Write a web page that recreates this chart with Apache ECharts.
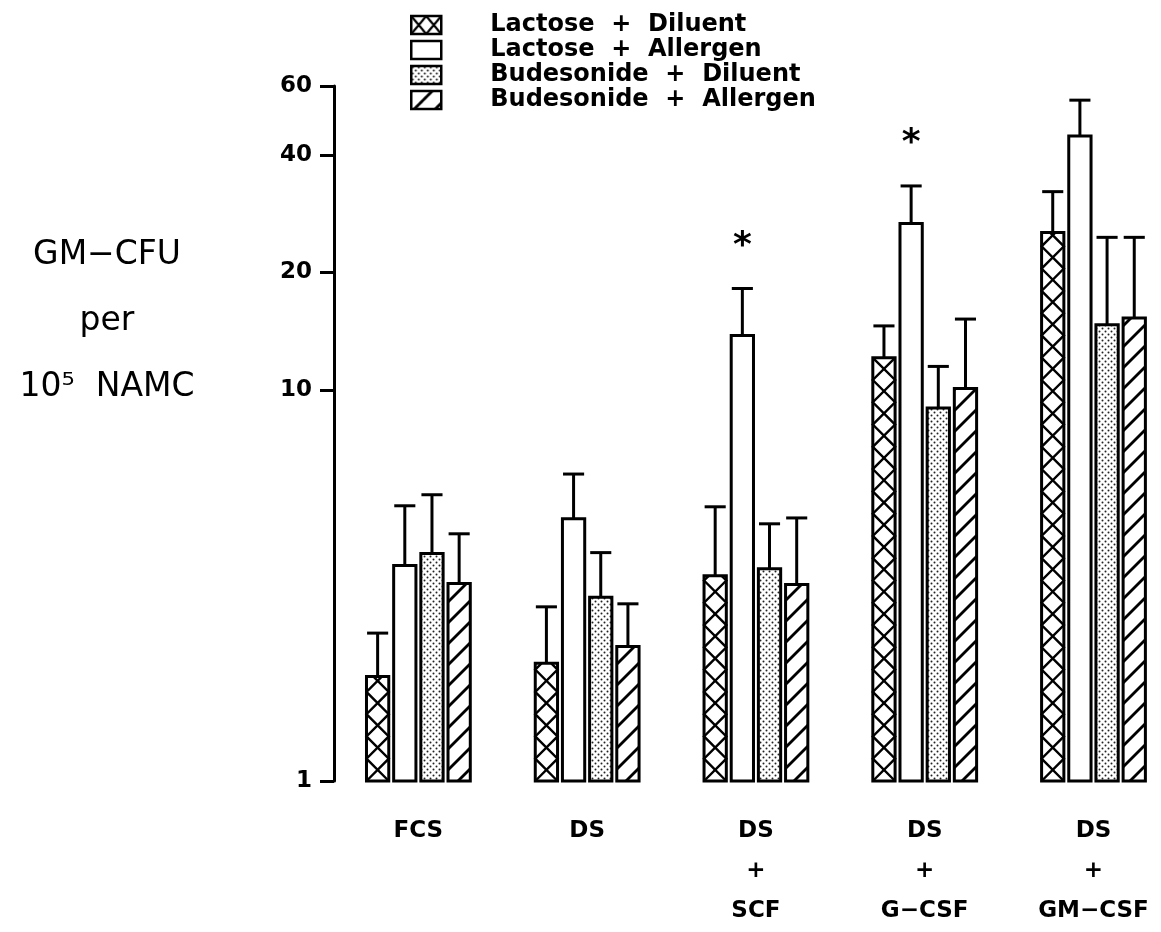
<!DOCTYPE html>
<html>
<head>
<meta charset="utf-8">
<script src="https://cdn.jsdelivr.net/npm/echarts@6/dist/echarts.min.js"></script>
<style>html,body{margin:0;padding:0;background:#fff}#c{width:1161px;height:932px}</style>
</head>
<body>
<div id="c"></div>
<script>
// ---- data ----
var categories = ['FCS', 'DS', 'DS\n+\nSCF', 'DS\n+\nG\u2212CSF', 'DS\n+\nGM\u2212CSF'];
var categoryIndex = [0, 1, 2, 3, 4];
var seriesNames = ['Lactose  +  Diluent', 'Lactose  +  Allergen', 'Budesonide  +  Diluent', 'Budesonide  +  Allergen'];
var lactoseDiluent      = [1.85, 2.0, 3.35, 12.1, 25.3];
var lactoseDiluentErr   = [2.39, 2.79, 5.03, 14.6, 32.2];
var lactoseAllergen     = [3.56, 4.69, 13.8, 26.7, 44.7];
var lactoseAllergenErr  = [5.06, 6.1, 18.2, 33.3, 55.2];
var budesonideDiluent   = [3.82, 2.95, 3.49, 9.0, 14.7];
var budesonideDiluentErr= [5.4, 3.84, 4.55, 11.5, 24.6];
var budesonideAllergen  = [3.2, 2.21, 3.18, 10.1, 15.3];
var budesonideAllergenErr=[4.29, 2.84, 4.71, 15.2, 24.6];
var significant         = [0, 0, 1, 1, 0]; // asterisk above Lactose + Allergen
var yTicks = [1, 10, 20, 40, 60];

// ---- patterns ----
function mkCanvas(w, h, draw) {
  var c = document.createElement('canvas'); c.width = w; c.height = h;
  var g = c.getContext('2d'); g.fillStyle = '#fff'; g.fillRect(0, 0, w, h); draw(g, w, h); return c;
}
var dotCanvas = mkCanvas(6, 6, function (g) {
  g.fillStyle = '#222';
  g.beginPath(); g.arc(1.5, 1.5, 1.0, 0, Math.PI * 2); g.fill();
  g.beginPath(); g.arc(4.5, 4.5, 1.0, 0, Math.PI * 2); g.fill();
});
var hatchCanvas = mkCanvas(21, 21, function (g) {
  g.strokeStyle = '#000'; g.lineWidth = 2.8;
  g.beginPath(); g.moveTo(-3, 24); g.lineTo(24, -3); g.stroke();
  g.beginPath(); g.moveTo(-3, 3); g.lineTo(3, -3); g.stroke();
  g.beginPath(); g.moveTo(18, 24); g.lineTo(24, 18); g.stroke();
});
var crossLegendCanvas = mkCanvas(15, 18, function (g) {
  g.strokeStyle = '#000'; g.lineWidth = 2.2;
  g.beginPath(); g.moveTo(0, 0); g.lineTo(15, 18); g.moveTo(15, 0); g.lineTo(0, 18); g.stroke();
});
var fills = [
  { image: crossLegendCanvas, repeat: 'repeat' },
  '#fff',
  { image: dotCanvas, repeat: 'repeat' },
  { image: hatchCanvas, repeat: 'repeat' }
];

function zigzag(x0, x1, yb, yt, h, startLeft) {
  var pts = [[startLeft ? x0 : x1, yb]];
  var left = startLeft, y = yb;
  while (true) {
    var nx = left ? x1 : x0, ny = y - h;
    var px = left ? x0 : x1;
    if (ny <= yt) {
      var t = (y - yt) / h;
      pts.push([px + (nx - px) * t, yt]);
      break;
    }
    pts.push([nx, ny]);
    left = !left; y = ny;
  }
  return pts;
}

function makeRender(slot) {
  return function (params, api) {
    var idx = api.value(0), v = api.value(1), e = api.value(2);
    var top = api.coord([idx, v]);
    var base = api.coord([idx, 1]);
    var band = api.coord([1, 1])[0] - api.coord([0, 1])[0];
    var pitch = band * 0.161, w = band * 0.132;
    var cx = top[0] + (slot - 1.5) * pitch;
    var x0 = cx - w / 2, x1 = cx + w / 2, yt = top[1], yb = base[1];
    var ey = api.coord([idx, e])[1];
    var capW = band * 0.125;
    var ch = [];
    ch.push({ type: 'line', shape: { x1: cx, y1: yt, x2: cx, y2: ey }, style: { stroke: '#000', lineWidth: 3 } });
    ch.push({ type: 'line', shape: { x1: cx - capW / 2, y1: ey, x2: cx + capW / 2, y2: ey }, style: { stroke: '#000', lineWidth: 3 } });
    var fill = slot === 0 ? '#fff' : fills[slot];
    ch.push({ type: 'rect', shape: { x: x0, y: yt, width: w, height: yb - yt }, style: { fill: fill, stroke: null } });
    if (slot === 0) {
      ch.push({ type: 'polyline', shape: { points: zigzag(x0, x1, yb, yt, w, true) }, style: { stroke: '#000', lineWidth: 2.4, fill: null } });
      ch.push({ type: 'polyline', shape: { points: zigzag(x0, x1, yb, yt, w, false) }, style: { stroke: '#000', lineWidth: 2.4, fill: null } });
    }
    ch.push({ type: 'rect', shape: { x: x0, y: yt, width: w, height: yb - yt }, style: { fill: null, stroke: '#000', lineWidth: 3 } });
    if (slot === 1 && significant[idx]) {
      ch.push({ type: 'text', style: { text: '*', x: cx, y: ey - 42, align: 'center', verticalAlign: 'middle', fontSize: 36, fontWeight: 'bold', fontFamily: 'DejaVu Sans', fill: '#000' } });
    }
    return { type: 'group', children: ch };
  };
}

var values = [lactoseDiluent, lactoseAllergen, budesonideDiluent, budesonideAllergen];
var errs = [lactoseDiluentErr, lactoseAllergenErr, budesonideDiluentErr, budesonideAllergenErr];

var series = seriesNames.map(function (name, s) {
  return {
    type: 'custom',
    name: name,
    renderItem: makeRender(s),
    encode: { x: 0, y: 1 },
    itemStyle: { color: fills[s], borderColor: '#000', borderWidth: 2.5 },
    data: categoryIndex.map(function (i) { return [i, values[s][i], errs[s][i]]; }),
    clip: false,
    silent: true
  };
});

var chart = echarts.init(document.getElementById('c'), null, { renderer: 'canvas' });
chart.setOption({
  backgroundColor: '#fff',
  animation: false,
  legend: {
    orient: 'vertical', left: 405, top: 8,
    itemWidth: 30, itemHeight: 18, itemGap: 1,
    selectedMode: false,
    textStyle: { fontFamily: 'DejaVu Sans', fontWeight: 'bold', fontSize: 24, color: '#000', lineHeight: 24, padding: [0, 0, 0, 44] },
    data: seriesNames.map(function (n, s) {
      return { name: n, icon: 'rect', itemStyle: { color: fills[s], borderColor: '#000', borderWidth: 2.5 } };
    })
  },
  grid: { left: 334, right: 0, top: 86, bottom: 151, containLabel: false },
  xAxis: {
    type: 'value', min: -0.5, max: 4.4,
    axisLine: { show: false, onZero: false }, axisTick: { show: false }, splitLine: { show: false },
    axisLabel: {
      fontFamily: 'DejaVu Sans', fontWeight: 'bold', fontSize: 23, color: '#000', lineHeight: 40, margin: 30,
      customValues: categoryIndex,
      formatter: function (v) { return categories[Math.round(v)]; }
    }
  },
  yAxis: {
    type: 'log', logBase: 10, min: 1, max: 60,
    axisLine: { show: true, onZero: false, lineStyle: { color: '#000', width: 3 } },
    axisTick: { show: true, inside: false, length: 14, lineStyle: { color: '#000', width: 3 }, customValues: yTicks },
    axisLabel: { fontFamily: 'DejaVu Sans', fontWeight: 'bold', fontSize: 23, color: '#000', margin: 22, customValues: yTicks },
    splitLine: { show: false }, minorTick: { show: false }
  },
  graphic: [{
    type: 'text', x: 107, y: 222,
    style: {
      text: 'GM\u2212CFU\nper\n10\u2075  NAMC',
      align: 'center', verticalAlign: 'top', fontFamily: 'DejaVu Sans', fontSize: 33, lineHeight: 66, fill: '#000'
    }
  }],
  series: series
});
</script>
</body>
</html>
